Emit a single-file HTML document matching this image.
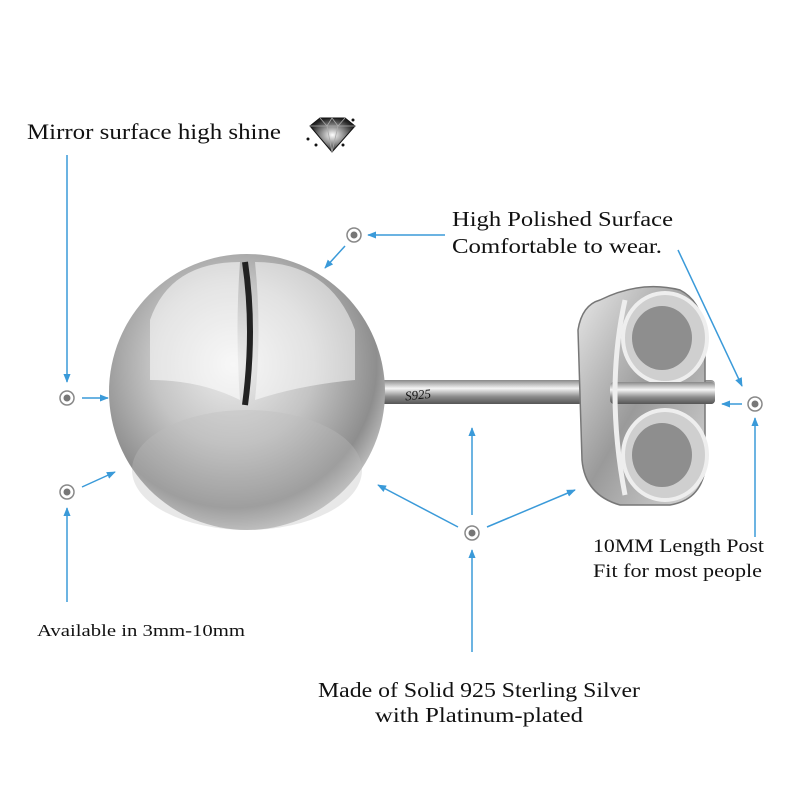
<!DOCTYPE html>
<html><head><meta charset="utf-8"><style>
html,body{margin:0;padding:0;background:#fff;}
svg{display:block;}
text{font-family:"Liberation Serif",serif;fill:#111;}
</style></head><body>
<svg width="800" height="800" viewBox="0 0 800 800" xmlns="http://www.w3.org/2000/svg">
<defs>
<radialGradient id="ball" cx="0.45" cy="0.4" r="0.65">
<stop offset="0" stop-color="#eeeeee"/><stop offset="0.45" stop-color="#c4c4c4"/><stop offset="0.8" stop-color="#8e8e8e"/><stop offset="1" stop-color="#d8d8d8"/>
</radialGradient>
<linearGradient id="post" x1="0" y1="0" x2="0" y2="1">
<stop offset="0" stop-color="#888"/><stop offset="0.35" stop-color="#f5f5f5"/><stop offset="0.7" stop-color="#8a8a8a"/><stop offset="1" stop-color="#555"/>
</linearGradient>
<linearGradient id="back" x1="0" y1="0" x2="1" y2="1">
<stop offset="0" stop-color="#e8e8e8"/><stop offset="0.5" stop-color="#9a9a9a"/><stop offset="1" stop-color="#d8d8d8"/>
</linearGradient>
<radialGradient id="dia" cx="0.5" cy="0.5" r="0.5"><stop offset="0" stop-color="#fff"/><stop offset="1" stop-color="#222"/></radialGradient>
<marker id="ah" viewBox="0 0 10 10" refX="9" refY="5" markerWidth="9" markerHeight="9" orient="auto-start-reverse" markerUnits="userSpaceOnUse"><path d="M0,1 L10,5 L0,9 Z" fill="#3a9ad9"/></marker>
</defs>

<!-- post -->
<rect x="375" y="380" width="340" height="24" rx="4" fill="url(#post)"/>
<text x="405" y="399" font-size="13" fill="#555" font-style="italic" transform="rotate(-6 420 395)">S925</text>
<!-- backing -->
<path d="M600,300 Q640,280 680,290 Q700,300 705,330 L705,470 Q700,500 670,505 L620,505 Q585,495 582,460 L578,330 Q582,305 600,300 Z" fill="url(#back)" stroke="#777" stroke-width="1.5"/>
<ellipse cx="665" cy="338" rx="42" ry="45" fill="#cfcfcf" stroke="#eee" stroke-width="4"/>
<ellipse cx="662" cy="338" rx="30" ry="32" fill="#8e8e8e"/>
<ellipse cx="665" cy="455" rx="42" ry="45" fill="#cfcfcf" stroke="#eee" stroke-width="4"/>
<ellipse cx="662" cy="455" rx="30" ry="32" fill="#8e8e8e"/>
<rect x="610" y="382" width="105" height="22" rx="4" fill="url(#post)"/>
<path d="M625,300 Q605,390 625,495" stroke="#eee" stroke-width="5" fill="none"/>

<!-- ball -->
<circle cx="247" cy="392" r="138" fill="url(#ball)"/>
<path d="M150,320 Q170,262 240,262 Q235,330 240,400 Q200,380 150,380 Z" fill="#fff" opacity="0.55"/>
<path d="M255,262 Q330,262 355,330 L355,380 Q300,385 255,400 Q262,330 255,262 Z" fill="#fff" opacity="0.5"/>
<path d="M245,262 Q255,330 245,405" stroke="#222" stroke-width="6" fill="none"/>
<ellipse cx="247" cy="470" rx="115" ry="60" fill="#bdbdbd" opacity="0.35"/>

<!-- diamond icon -->
<path d="M310,126 L320,118 L345,118 L355,126 L332,152 Z" fill="url(#dia)" stroke="#111"/>
<path d="M310,126 L355,126 M320,118 L327,126 L332,152 M345,118 L338,126 L332,152 M332,118 L327,126 M332,118 L338,126" stroke="#aaa" stroke-width="0.8" fill="none"/>
<circle cx="353" cy="120" r="1.5" fill="#111"/><circle cx="308" cy="139" r="1.5" fill="#111"/><circle cx="316" cy="145" r="1.5" fill="#111"/><circle cx="343" cy="145" r="1.5" fill="#111"/>

<!-- dots -->
<g fill="#fff" stroke="#888" stroke-width="1.5">
<circle cx="67" cy="398" r="7"/><circle cx="67" cy="492" r="7"/><circle cx="354" cy="235" r="7"/><circle cx="472" cy="533" r="7"/><circle cx="755" cy="404" r="7"/>
</g>
<g fill="#777"><circle cx="67" cy="398" r="3.5"/><circle cx="67" cy="492" r="3.5"/><circle cx="354" cy="235" r="3.5"/><circle cx="472" cy="533" r="3.5"/><circle cx="755" cy="404" r="3.5"/></g>

<!-- arrows -->
<g stroke="#3a9ad9" stroke-width="1.5" fill="none" marker-end="url(#ah)">
<line x1="67" y1="155" x2="67" y2="382"/>
<line x1="82" y1="398" x2="108" y2="398"/>
<line x1="82" y1="487" x2="115" y2="472"/>
<line x1="67" y1="602" x2="67" y2="508"/>
<line x1="445" y1="235" x2="368" y2="235"/>
<line x1="345" y1="246" x2="325" y2="268"/>
<line x1="458" y1="527" x2="378" y2="485"/>
<line x1="487" y1="527" x2="575" y2="490"/>
<line x1="472" y1="652" x2="472" y2="550"/>
<line x1="472" y1="515" x2="472" y2="428"/>
<line x1="678" y1="250" x2="742" y2="386"/>
<line x1="742" y1="404" x2="722" y2="404"/>
<line x1="755" y1="537" x2="755" y2="418"/>
</g>

<!-- text -->
<text x="27" y="139" font-size="22" textLength="254" lengthAdjust="spacingAndGlyphs">Mirror surface high shine</text>
<text x="452" y="226" font-size="21" textLength="221" lengthAdjust="spacingAndGlyphs">High Polished Surface</text>
<text x="452" y="253" font-size="21" textLength="210" lengthAdjust="spacingAndGlyphs">Comfortable to wear.</text>
<text x="593" y="552" font-size="19" textLength="171" lengthAdjust="spacingAndGlyphs">10MM Length Post</text>
<text x="593" y="577" font-size="19" textLength="169" lengthAdjust="spacingAndGlyphs">Fit for most people</text>
<text x="37" y="636" font-size="17" textLength="208" lengthAdjust="spacingAndGlyphs">Available in 3mm-10mm</text>
<text x="318" y="697" font-size="21" textLength="322" lengthAdjust="spacingAndGlyphs">Made of Solid 925 Sterling Silver</text>
<text x="375" y="722" font-size="21" textLength="208" lengthAdjust="spacingAndGlyphs">with Platinum-plated</text>
</svg>
</body></html>
